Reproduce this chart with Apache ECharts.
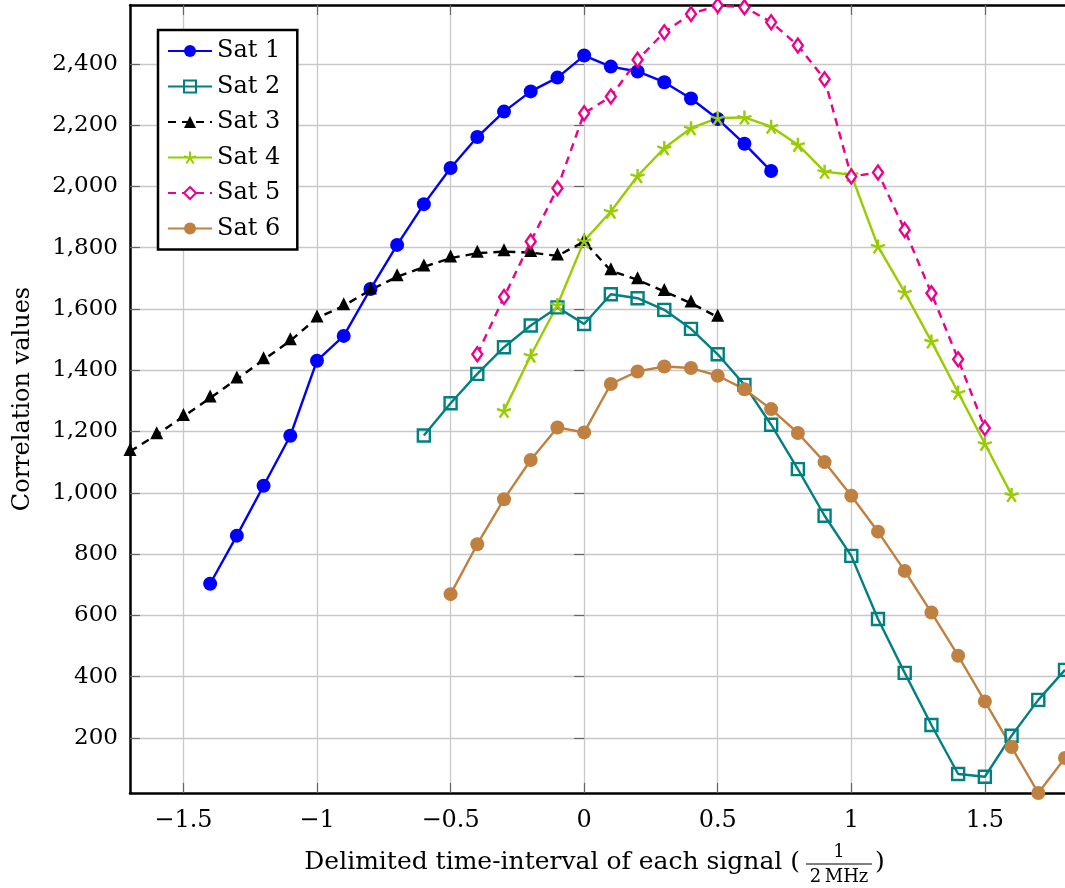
<!DOCTYPE html>
<html>
<head>
<meta charset="utf-8">
<title>Correlation values</title>
<script src="https://cdn.jsdelivr.net/npm/echarts@6/dist/echarts.min.js"></script>
<style>
  html, body { margin: 0; padding: 0; background: #fff; }
  #chart { width: 1065px; height: 888px; }
</style>
</head>
<body>
<div id="chart"></div>
<script>
// data
const xTicks = [-1.5, -1, -0.5, 0, 0.5, 1, 1.5]
const yTicks = [200, 400, 600, 800, 1000, 1200, 1400, 1600, 1800, 2000, 2200, 2400]
const xMin = -1.7
const xMax = 1.8
const yMin = 20
const yMax = 2592

const sat1X = [-1.4, -1.3, -1.2, -1.1, -1.0, -0.9, -0.8, -0.7, -0.6, -0.5, -0.4, -0.3, -0.2, -0.1, 0, 0.1, 0.2, 0.3, 0.4, 0.5, 0.6, 0.7]
const sat1Y = [703, 860, 1023, 1186, 1431, 1512, 1665, 1809, 1942, 2060, 2161, 2244, 2310, 2355, 2427, 2391, 2375, 2340, 2287, 2220, 2139, 2050]

const sat2X = [-0.6, -0.5, -0.4, -0.3, -0.2, -0.1, 0, 0.1, 0.2, 0.3, 0.4, 0.5, 0.6, 0.7, 0.8, 0.9, 1.0, 1.1, 1.2, 1.3, 1.4, 1.5, 1.6, 1.7, 1.8]
const sat2Y = [1187, 1292, 1388, 1475, 1546, 1605, 1551, 1648, 1635, 1597, 1535, 1452, 1352, 1222, 1077, 925, 794, 588, 412, 242, 82, 73, 207, 324, 422]

const sat3X = [-1.7, -1.6, -1.5, -1.4, -1.3, -1.2, -1.1, -1.0, -0.9, -0.8, -0.7, -0.6, -0.5, -0.4, -0.3, -0.2, -0.1, 0, 0.1, 0.2, 0.3, 0.4, 0.5]
const sat3Y = [1135, 1189, 1249, 1309, 1371, 1434, 1496, 1570, 1610, 1662, 1705, 1737, 1766, 1782, 1787, 1784, 1773, 1820, 1725, 1695, 1657, 1619, 1573]

const sat4X = [-0.3, -0.2, -0.1, 0, 0.1, 0.2, 0.3, 0.4, 0.5, 0.6, 0.7, 0.8, 0.9, 1.0, 1.1, 1.2, 1.3, 1.4, 1.5, 1.6]
const sat4Y = [1268, 1448, 1613, 1822, 1918, 2034, 2125, 2190, 2223, 2225, 2195, 2136, 2048, 2038, 1804, 1654, 1494, 1327, 1160, 993]

const sat5X = [-0.4, -0.3, -0.2, -0.1, 0, 0.1, 0.2, 0.3, 0.4, 0.5, 0.6, 0.7, 0.8, 0.9, 1.0, 1.1, 1.2, 1.3, 1.4, 1.5]
const sat5Y = [1452, 1639, 1820, 1994, 2239, 2293, 2413, 2503, 2563, 2590, 2585, 2536, 2460, 2350, 2032, 2045, 1858, 1651, 1436, 1211]

const sat6X = [-0.5, -0.4, -0.3, -0.2, -0.1, 0, 0.1, 0.2, 0.3, 0.4, 0.5, 0.6, 0.7, 0.8, 0.9, 1.0, 1.1, 1.2, 1.3, 1.4, 1.5, 1.6, 1.7, 1.8]
const sat6Y = [669, 832, 979, 1107, 1213, 1197, 1355, 1396, 1412, 1407, 1382, 1338, 1273, 1195, 1100, 990, 873, 745, 609, 468, 319, 170, 20, 134]

const FONT = 'DejaVu Serif'
const starPath = 'path://M0,0L0,-10M0,0L9.51,-3.09M0,0L5.88,8.09M0,0L-5.88,8.09M0,0L-9.51,-3.09'

const pairs = (xs, ys) => xs.map((x, i) => [x, ys[i]])

const fmtX = v => {
  const s = String(Math.abs(v))
  return v < 0 ? '\u2212' + s : s
}
const fmtY = v => v.toLocaleString('en-US')

const chart = echarts.init(document.getElementById('chart'), null, { renderer: 'canvas' })

const tickStyle = { show: true, inside: true, length: 10, lineStyle: { color: '#666', width: 1.2 } }

const lineSeries = (name, xs, ys, color, extra) => Object.assign({
  name: name,
  type: 'line',
  data: pairs(xs, ys),
  xAxisIndex: 0,
  yAxisIndex: 0,
  lineStyle: { color: color, width: 2.4 },
  showAllSymbol: true,
  clip: true,
  z: 3
}, extra)

const option = {
  animation: false,
  backgroundColor: '#fff',
  grid: { left: 130, right: 0, top: 5, bottom: 95, show: false },
  xAxis: [
    {
      type: 'value',
      position: 'bottom',
      min: xMin,
      max: xMax,
      axisLine: { show: true, onZero: false, lineStyle: { color: '#000', width: 2.5 } },
      axisTick: Object.assign({ customValues: xTicks }, tickStyle),
      axisLabel: {
        customValues: xTicks,
        formatter: fmtX,
        margin: 16,
        color: '#000',
        fontFamily: FONT,
        fontSize: 24
      },
      splitLine: { show: true, lineStyle: { color: '#c8c8c8', width: 1.3 } }
    },
    {
      type: 'value',
      position: 'top',
      min: xMin,
      max: xMax,
      axisLine: { show: true, onZero: false, lineStyle: { color: '#000', width: 2.5 } },
      axisTick: Object.assign({ customValues: xTicks }, tickStyle),
      axisLabel: { show: false },
      splitLine: { show: false }
    }
  ],
  yAxis: [
    {
      type: 'value',
      position: 'left',
      min: yMin,
      max: yMax,
      name: 'Correlation values',
      nameLocation: 'middle',
      nameGap: 95,
      nameRotate: 90,
      nameTextStyle: { color: '#000', fontFamily: FONT, fontSize: 24 },
      axisLine: { show: true, onZero: false, lineStyle: { color: '#000', width: 2.5 } },
      axisTick: Object.assign({ customValues: yTicks }, tickStyle),
      axisLabel: {
        customValues: yTicks,
        formatter: fmtY,
        margin: 12,
        color: '#000',
        fontFamily: FONT,
        fontSize: 23
      },
      splitLine: { show: true, lineStyle: { color: '#c8c8c8', width: 1.3 } }
    },
    {
      type: 'value',
      position: 'right',
      min: yMin,
      max: yMax,
      axisLine: { show: false },
      axisTick: Object.assign({ customValues: yTicks }, tickStyle),
      axisLabel: { show: false },
      splitLine: { show: false }
    }
  ],
  legend: {
    left: 158,
    top: 30,
    orient: 'vertical',
    backgroundColor: '#fff',
    borderColor: '#000',
    borderWidth: 2.5,
    padding: [9, 17, 9, 9],
    itemWidth: 44,
    itemHeight: 15,
    itemGap: 11.5,
    textStyle: { color: '#000', fontFamily: FONT, fontSize: 24, lineHeight: 24 },
    data: ['Sat 1', 'Sat 2', 'Sat 3', 'Sat 4', 'Sat 5', 'Sat 6']
  },
  series: [
    lineSeries('Sat 1', sat1X, sat1Y, '#0000ff', {
      symbol: 'circle',
      symbolSize: 14,
      itemStyle: { color: '#0000ff' }
    }),
    lineSeries('Sat 2', sat2X, sat2Y, '#008080', {
      symbol: 'rect',
      symbolSize: 12,
      itemStyle: { color: 'rgba(255,255,255,0)', borderColor: '#008080', borderWidth: 2.4 }
    }),
    lineSeries('Sat 3', sat3X, sat3Y, '#000', {
      symbol: 'triangle',
      symbolSize: 13,
      symbolOffset: [0, -2],
      lineStyle: { color: '#000', width: 2.4, type: [8, 6] },
      itemStyle: { color: '#000' }
    }),
    lineSeries('Sat 4', sat4X, sat4Y, '#99cc00', {
      symbol: starPath,
      symbolSize: 14,
      itemStyle: { color: 'rgba(255,255,255,0)', borderColor: '#99cc00', borderWidth: 2.4 }
    }),
    lineSeries('Sat 5', sat5X, sat5Y, '#ec008c', {
      symbol: 'diamond',
      symbolSize: [10, 14],
      lineStyle: { color: '#ec008c', width: 2.4, type: [8, 6] },
      itemStyle: { color: '#fff', borderColor: '#ec008c', borderWidth: 2.4 }
    }),
    lineSeries('Sat 6', sat6X, sat6Y, '#bf8040', {
      symbol: 'circle',
      symbolSize: 14,
      itemStyle: { color: '#bf8040' }
    })
  ],
  graphic: [
    {
      type: 'text',
      x: 800,
      y: 862,
      style: {
        text: 'Delimited time-interval of each signal (',
        fontFamily: FONT,
        fontSize: 25,
        fill: '#000',
        align: 'right',
        verticalAlign: 'middle'
      }
    },
    {
      type: 'text',
      x: 839,
      y: 852,
      style: { text: '1', fontFamily: FONT, fontSize: 18, fill: '#000', align: 'center', verticalAlign: 'middle' }
    },
    {
      type: 'line',
      shape: { x1: 806, y1: 864, x2: 872, y2: 864 },
      style: { stroke: '#000', lineWidth: 1.2 }
    },
    {
      type: 'text',
      x: 839,
      y: 877,
      style: { text: '2\u2009MHz', fontFamily: FONT, fontSize: 18, fill: '#000', align: 'center', verticalAlign: 'middle' }
    },
    {
      type: 'text',
      x: 875,
      y: 862,
      style: { text: ')', fontFamily: FONT, fontSize: 25, fill: '#000', align: 'left', verticalAlign: 'middle' }
    }
  ]
}

chart.setOption(option)
</script>
</body>
</html>
